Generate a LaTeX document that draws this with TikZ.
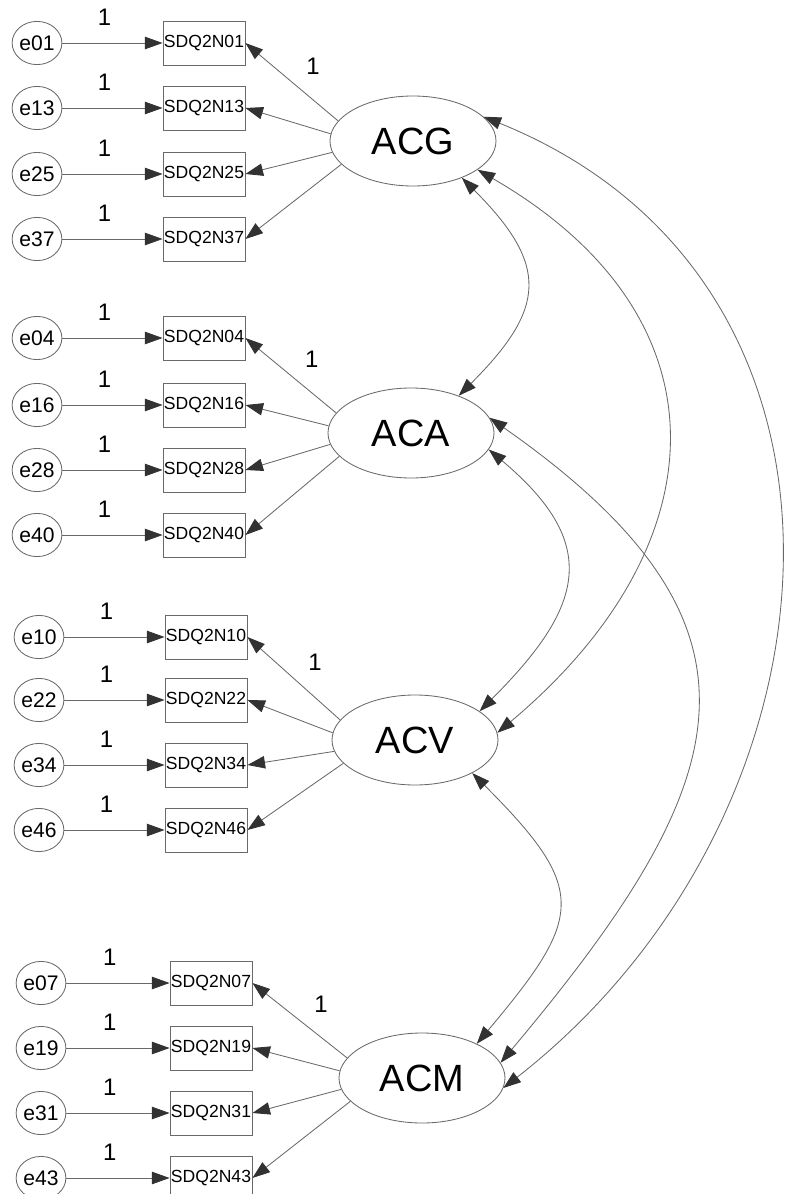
\documentclass[tikz,border=0pt]{standalone}
\usepackage{fontspec}
\setmainfont{Liberation Sans}
\usepackage{tikz}
\usetikzlibrary{arrows.meta,positioning,shapes.geometric}
\definecolor{amsline}{RGB}{105,105,105}
\definecolor{amstip}{RGB}{50,50,50}
\newcommand{\fs}[1]{\fontsize{#1}{#1}\selectfont}

\begin{document}
\begin{tikzpicture}[>={Triangle[length=0.44cm, width=0.31cm, color=amstip]},
  err/.style={draw=amsline, ellipse, line width=0.6pt, minimum width=1.2cm, minimum height=1.08cm,
              inner sep=0pt, font=\fs{15}},
  obs/.style={draw=amsline, rectangle, line width=0.6pt, minimum width=2.05cm, minimum height=1.1cm,
              inner sep=0pt, font=\fs{12.5}},
  lat/.style={draw=amsline, ellipse, line width=0.6pt, minimum width=4.15cm, minimum height=2.25cm,
              inner sep=0pt, font=\fs{27}},
  reg/.style={->, draw=amsline, line width=0.6pt},
  cov/.style={<->, draw=amsline, line width=0.6pt},
  one/.style={font=\fs{17}, inner sep=1pt}]
\useasboundingbox (0,0) rectangle (19.775,-29.85);
% factor ACG
\node[lat] (acg) at (10.325,-3.525) {ACG};
\node[obs] (n01) at (5.1,-1.075) {SDQ2N01};
\node[obs] (n13) at (5.1,-2.7) {SDQ2N13};
\node[obs] (n25) at (5.1,-4.35) {SDQ2N25};
\node[obs] (n37) at (5.1,-5.975) {SDQ2N37};
\node[err] (e01) at (0.925,-1.075) {e01};
\node[err] (e13) at (0.925,-2.7) {e13};
\node[err] (e25) at (0.925,-4.35) {e25};
\node[err] (e37) at (0.925,-5.975) {e37};
% factor ACA
\node[lat] (aca) at (10.275,-10.825) {ACA};
\node[obs] (n04) at (5.1,-8.45) {SDQ2N04};
\node[obs] (n16) at (5.1,-10.125) {SDQ2N16};
\node[obs] (n28) at (5.1,-11.75) {SDQ2N28};
\node[obs] (n40) at (5.1,-13.375) {SDQ2N40};
\node[err] (e04) at (0.925,-8.45) {e04};
\node[err] (e16) at (0.925,-10.125) {e16};
\node[err] (e28) at (0.925,-11.75) {e28};
\node[err] (e40) at (0.925,-13.375) {e40};
% factor ACV
\node[lat] (acv) at (10.375,-18.5) {ACV};
\node[obs] (n10) at (5.15,-15.925) {SDQ2N10};
\node[obs] (n22) at (5.15,-17.5) {SDQ2N22};
\node[obs] (n34) at (5.15,-19.125) {SDQ2N34};
\node[obs] (n46) at (5.15,-20.75) {SDQ2N46};
\node[err] (e10) at (0.975,-15.925) {e10};
\node[err] (e22) at (0.975,-17.5) {e22};
\node[err] (e34) at (0.975,-19.125) {e34};
\node[err] (e46) at (0.975,-20.75) {e46};
% factor ACM
\node[lat] (acm) at (10.55,-26.95) {ACM};
\node[obs] (n07) at (5.275,-24.575) {SDQ2N07};
\node[obs] (n19) at (5.275,-26.2) {SDQ2N19};
\node[obs] (n31) at (5.275,-27.825) {SDQ2N31};
\node[obs] (n43) at (5.275,-29.45) {SDQ2N43};
\node[err] (e07) at (1.025,-24.575) {e07};
\node[err] (e19) at (1.025,-26.2) {e19};
\node[err] (e31) at (1.025,-27.825) {e31};
\node[err] (e43) at (1.025,-29.45) {e43};
% error terms
\draw[reg] (e01) -- node[one, above=0.4cm, pos=0.42]{1} (n01);
\draw[reg] (e13) -- node[one, above=0.4cm, pos=0.42]{1} (n13);
\draw[reg] (e25) -- node[one, above=0.4cm, pos=0.42]{1} (n25);
\draw[reg] (e37) -- node[one, above=0.4cm, pos=0.42]{1} (n37);
\draw[reg] (e04) -- node[one, above=0.4cm, pos=0.42]{1} (n04);
\draw[reg] (e16) -- node[one, above=0.4cm, pos=0.42]{1} (n16);
\draw[reg] (e28) -- node[one, above=0.4cm, pos=0.42]{1} (n28);
\draw[reg] (e40) -- node[one, above=0.4cm, pos=0.42]{1} (n40);
\draw[reg] (e10) -- node[one, above=0.4cm, pos=0.42]{1} (n10);
\draw[reg] (e22) -- node[one, above=0.4cm, pos=0.42]{1} (n22);
\draw[reg] (e34) -- node[one, above=0.4cm, pos=0.42]{1} (n34);
\draw[reg] (e46) -- node[one, above=0.4cm, pos=0.42]{1} (n46);
\draw[reg] (e07) -- node[one, above=0.4cm, pos=0.42]{1} (n07);
\draw[reg] (e19) -- node[one, above=0.4cm, pos=0.42]{1} (n19);
\draw[reg] (e31) -- node[one, above=0.4cm, pos=0.42]{1} (n31);
\draw[reg] (e43) -- node[one, above=0.4cm, pos=0.42]{1} (n43);
% loadings
\draw[reg] (acg.165) -- node[one, pos=0.45, above right=0.25cm and 0.2cm]{1} (n01.east);
\draw[reg] (acg.175) -- (n13.east);
\draw[reg] (acg.188) -- (n25.east);
\draw[reg] (acg.198) -- (n37.east);
\draw[reg] (aca.165) -- node[one, pos=0.45, above right=0.25cm and 0.2cm]{1} (n04.east);
\draw[reg] (aca.175) -- (n16.east);
\draw[reg] (aca.188) -- (n28.east);
\draw[reg] (aca.198) -- (n40.east);
\draw[reg] (acv.165) -- node[one, pos=0.45, above right=0.25cm and 0.2cm]{1} (n10.east);
\draw[reg] (acv.175) -- (n22.east);
\draw[reg] (acv.188) -- (n34.east);
\draw[reg] (acv.198) -- (n46.east);
\draw[reg] (acm.165) -- node[one, pos=0.45, above right=0.25cm and 0.2cm]{1} (n07.east);
\draw[reg] (acm.175) -- (n19.east);
\draw[reg] (acm.188) -- (n31.east);
\draw[reg] (acm.198) -- (n43.east);
% factor covariances
\draw[cov] (acg.-37) to[out=-45, in=45, looseness=1.45] (aca.38);
\draw[cov] (acg.-24) to[out=-30, in=40, looseness=1.33] (acv.5);
\draw[cov] (acg.19) to[out=-22, in=38, looseness=1.17] (acm.-7);
\draw[cov] (aca.-12) to[out=-40, in=45, looseness=1.44] (acv.24);
\draw[cov] (aca.11) to[out=-35, in=50, looseness=1.45] (acm.11);
\draw[cov] (acv.-30) to[out=-45, in=50, looseness=1.56] (acm.32);
\end{tikzpicture}
\end{document}
